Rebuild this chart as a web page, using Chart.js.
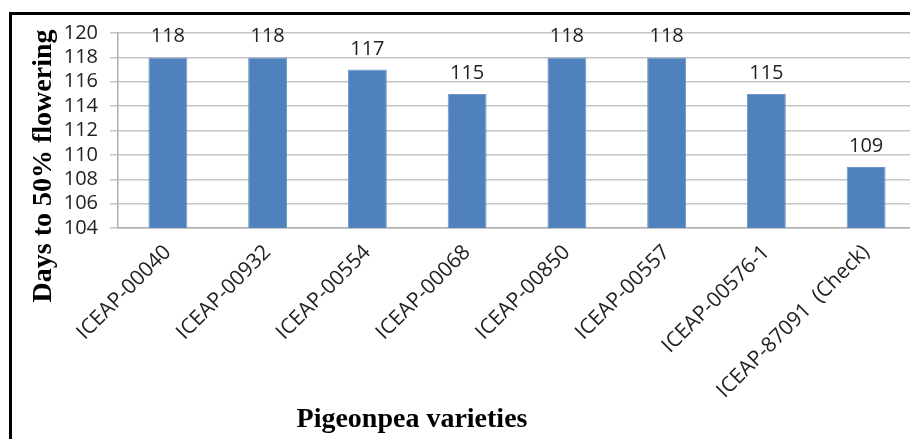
<!DOCTYPE html>
<html>
<head>
<meta charset="utf-8">
<title>Days to 50% flowering</title>
<script src="https://cdn.jsdelivr.net/npm/chart.js@4.4.1/dist/chart.umd.min.js"></script>
<style>
  html, body { margin: 0; padding: 0; background: #fff; overflow: hidden; }
  #frame {
    position: absolute; left: 9px; top: 12px; width: 1000px; height: 500px;
    border-left: 3px solid #000; border-top: 3px solid #000;
  }
  #chart { position: absolute; left: 0; top: 0; }
</style>
</head>
<body>
<div id="frame"></div>
<canvas id="chart" width="920" height="439"></canvas>
<script>
const varieties = [
    'ICEAP-00040', 'ICEAP-00932', 'ICEAP-00554', 'ICEAP-00068',
    'ICEAP-00850', 'ICEAP-00557', 'ICEAP-00576-1', 'ICEAP-87091  (Check)'
];
const daysToFlowering = [118, 118, 117, 115, 118, 118, 115, 109];
const yTicks = [104, 106, 108, 110, 112, 114, 116, 118, 120];

const xTitle = 'Pigeonpea varieties';
const yTitle = 'Days to 50% flowering';

const tickFont = "'Open Sans', 'Liberation Sans', sans-serif";
const titleFont = "bold 28px 'Liberation Serif', 'DejaVu Serif', serif";

// value printed above every bar
const barLabels = {
    id: 'barLabels',
    afterDatasetsDraw(chart) {
        const ctx = chart.ctx;
        const meta = chart.getDatasetMeta(0);
        ctx.save();
        ctx.font = "20px " + tickFont;
        ctx.fillStyle = '#222';
        ctx.textAlign = 'center';
        ctx.textBaseline = 'alphabetic';
        meta.data.forEach((bar, i) => {
            ctx.fillText(daysToFlowering[i], bar.x, bar.y - 15);
        });
        ctx.restore();
    }
};

// axis titles, bold serif
const axisTitles = {
    id: 'axisTitles',
    afterDraw(chart) {
        const ctx = chart.ctx;
        ctx.save();
        ctx.font = titleFont;
        ctx.fillStyle = '#000';
        ctx.textAlign = 'center';
        ctx.textBaseline = 'alphabetic';
        ctx.fillText(xTitle, 412, 427);
        ctx.translate(51, 166);
        ctx.rotate(-Math.PI / 2);
        ctx.fillText(yTitle, 0, 0);
        ctx.restore();
    }
};

const ctx = document.getElementById('chart').getContext('2d');

new Chart(ctx, {
    type: 'bar',
    data: {
        labels: varieties,
        datasets: [{
            label: yTitle,
            data: daysToFlowering,
            backgroundColor: '#4f81bd',
            borderColor: '#6f97c9',
            borderWidth: 1,
            barPercentage: 0.39,
            categoryPercentage: 1
        }]
    },
    options: {
        responsive: false,
        devicePixelRatio: 1,
        animation: false,
        layout: { padding: { left: 0, right: 4, top: 33, bottom: 0 } },
        plugins: {
            legend: { display: false },
            tooltip: { enabled: false }
        },
        scales: {
            x: {
                grid: { display: false },
                border: { display: true, color: '#b0b0b0', width: 1.5 },
                ticks: {
                    maxRotation: 45,
                    minRotation: 45,
                    autoSkip: false,
                    padding: 4,
                    color: '#222',
                    font: { family: tickFont, size: 21 }
                },
                afterFit(scale) { scale.height = 211; }
            },
            y: {
                min: 104,
                max: 120,
                afterBuildTicks(scale) {
                    scale.ticks = yTicks.map(v => ({ value: v }));
                },
                grid: { color: '#c4c4c4', lineWidth: 1.5, tickLength: 8 },
                border: { display: true, color: '#b0b0b0', width: 1.5 },
                ticks: {
                    autoSkip: false,
                    padding: 12,
                    color: '#222',
                    font: { family: tickFont, size: 20 }
                },
                afterFit(scale) { scale.width = 118; }
            }
        }
    },
    plugins: [barLabels, axisTitles]
});
</script>
</body>
</html>
